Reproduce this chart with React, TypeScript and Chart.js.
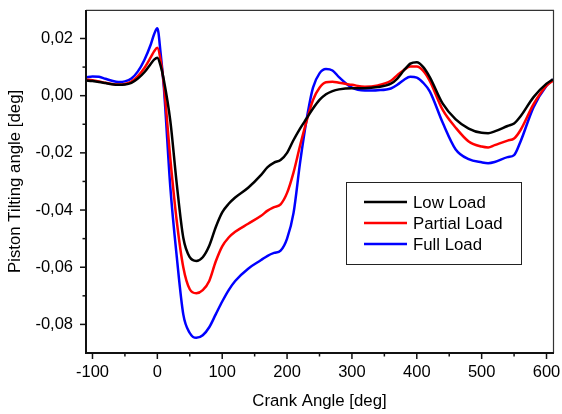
import React, { useEffect, useRef } from 'react';
import { Chart, registerables } from 'chart.js';

Chart.register(...registerables);

// Crank angle [deg]
const CRANK = [
  -110, -100, -90, -80, -70, -60, -50, -40, -30, -20,
  -10, -5, 0, 5, 10, 20, 30, 40, 50, 60,
  70, 80, 90, 100, 110, 120, 140, 160, 170, 180,
  190, 200, 210, 220, 230, 240, 250, 260, 270, 280,
  300, 320, 340, 360, 370, 380, 390, 400, 410, 420,
  440, 460, 480, 500, 510, 520, 540, 550, 560, 580,
  600, 610,
];

// Piston tilting angle [deg]
const LOW_LOAD = [
  0.0053, 0.0051, 0.0048, 0.0044, 0.0040, 0.0038, 0.0039, 0.0045, 0.0060, 0.0082,
  0.0112, 0.0126, 0.0133, 0.0105, 0.0055, -0.0088, -0.0310, -0.0497, -0.0565, -0.0578,
  -0.0565, -0.0525, -0.0460, -0.0408, -0.0378, -0.0356, -0.0322, -0.0277, -0.0250, -0.0234,
  -0.0225, -0.0200, -0.0155, -0.0115, -0.0080, -0.0045, -0.0015, 0.0005, 0.0016, 0.0022,
  0.0026, 0.0026, 0.0030, 0.0042, 0.0060, 0.0088, 0.0112, 0.0117, 0.0100, 0.0065,
  -0.0028, -0.0083, -0.0115, -0.0130, -0.0131, -0.0125, -0.0106, -0.0097, -0.0072, -0.0005,
  0.0042, 0.0057,
];

const PARTIAL_LOAD = [
  0.0056, 0.0054, 0.0050, 0.0045, 0.0041, 0.0039, 0.0041, 0.0049, 0.0068, 0.0097,
  0.0135, 0.0155, 0.0168, 0.0125, 0.0040, -0.0220, -0.0440, -0.0600, -0.0677, -0.0691,
  -0.0680, -0.0648, -0.0580, -0.0527, -0.0496, -0.0476, -0.0448, -0.0420, -0.0402, -0.0390,
  -0.0380, -0.0340, -0.0268, -0.0175, -0.0090, -0.0015, 0.0028, 0.0047, 0.0049, 0.0045,
  0.0038, 0.0031, 0.0036, 0.0052, 0.0072, 0.0090, 0.0102, 0.0102, 0.0087, 0.0052,
  -0.0050, -0.0112, -0.0160, -0.0178, -0.0181, -0.0173, -0.0157, -0.0150, -0.0120, -0.0030,
  0.0035, 0.0052,
];

const FULL_LOAD = [
  0.0064, 0.0067, 0.0066, 0.0059, 0.0052, 0.0048, 0.0050, 0.0060, 0.0085, 0.0125,
  0.0180, 0.0215, 0.0236, 0.0150, 0.0030, -0.0320, -0.0565, -0.0765, -0.0830, -0.0847,
  -0.0838, -0.0810, -0.0765, -0.0720, -0.0680, -0.0648, -0.0605, -0.0575, -0.0560, -0.0550,
  -0.0542, -0.0500, -0.0410, -0.0235, -0.0085, 0.0028, 0.0078, 0.0093, 0.0088, 0.0065,
  0.0028, 0.0018, 0.0019, 0.0025, 0.0038, 0.0055, 0.0066, 0.0063, 0.0045, 0.0015,
  -0.0095, -0.0188, -0.0222, -0.0233, -0.0236, -0.0232, -0.0215, -0.0208, -0.0160, -0.0040,
  0.0035, 0.0057,
];

const SERIES_NAMES = ['Low Load', 'Partial Load', 'Full Load'];
const SERIES_COLORS = ['#000000', '#ff0000', '#0000ff'];
const X_TITLE = 'Crank Angle [deg]';
const Y_TITLE = 'Piston Tilting angle [deg]';

const FONT_FAMILY = 'Arial, "Liberation Sans", sans-serif';

const framePlugin = {
  id: 'frameAndLegend',
  afterDraw(chart: any) {
    const { ctx, chartArea, scales } = chart;
    const { left, right, top, bottom } = chartArea;
    const xs = scales.x;
    const ys = scales.y;
    ctx.save();
    // top & right frame
    ctx.strokeStyle = '#333';
    ctx.lineWidth = 1.2;
    ctx.beginPath();
    ctx.moveTo(left, top + 0.5);
    ctx.lineTo(right + 0.5, top + 0.5);
    ctx.lineTo(right + 0.5, bottom);
    ctx.stroke();
    // left & bottom axes
    ctx.strokeStyle = '#111';
    ctx.lineWidth = 2;
    ctx.beginPath();
    ctx.moveTo(left, top);
    ctx.lineTo(left, bottom);
    ctx.lineTo(right + 1, bottom);
    ctx.stroke();
    // ticks
    ctx.lineWidth = 1.5;
    xs.ticks.forEach((t: any) => {
      const px = xs.getPixelForValue(t.value);
      const major = Math.abs(t.value % 100) < 1e-6;
      const len = major ? 6 : 3.5;
      ctx.beginPath();
      ctx.moveTo(px, bottom);
      ctx.lineTo(px, bottom + len);
      ctx.stroke();
    });
    ys.ticks.forEach((t: any) => {
      const py = ys.getPixelForValue(t.value);
      const k = Math.round(t.value * 100);
      const major = k % 2 === 0;
      const len = major ? 6 : 3.5;
      ctx.beginPath();
      ctx.moveTo(left, py);
      ctx.lineTo(left - len, py);
      ctx.stroke();
    });
    // legend
    const bx = 346.5, by = 182.5, bw = 175, bh = 82;
    ctx.fillStyle = '#fff';
    ctx.fillRect(bx, by, bw, bh);
    ctx.strokeStyle = '#222';
    ctx.lineWidth = 1;
    ctx.strokeRect(bx, by, bw, bh);
    ctx.font = `16.8px ${FONT_FAMILY}`;
    ctx.textBaseline = 'middle';
    ctx.textAlign = 'left';
    chart.data.datasets.forEach((ds: any, i: number) => {
      const ry = 202 + i * 21;
      ctx.strokeStyle = ds.borderColor;
      ctx.lineWidth = 2.5;
      ctx.beginPath();
      ctx.moveTo(364, ry);
      ctx.lineTo(407, ry);
      ctx.stroke();
      ctx.fillStyle = '#000';
      ctx.fillText(ds.label, 413, ry + 1);
    });
    ctx.restore();
  },
};

export default function App() {
  const canvasRef = useRef<HTMLCanvasElement | null>(null);

  useEffect(() => {
    if (!canvasRef.current) return;
    const seriesValues = [LOW_LOAD, PARTIAL_LOAD, FULL_LOAD];
    const datasets = seriesValues.map((vals, i) => ({
      label: SERIES_NAMES[i],
      data: CRANK.map((x, j) => ({ x, y: vals[j] })),
      borderColor: SERIES_COLORS[i],
      backgroundColor: SERIES_COLORS[i],
      borderWidth: 2.5,
      pointRadius: 0,
      fill: false,
      cubicInterpolationMode: 'monotone' as const,
    }));
    const tickFont = { family: FONT_FAMILY, size: 16.5 };
    const titleFont = { family: FONT_FAMILY, size: 16.8 };
    const hiddenGrid = {
      display: true,
      drawOnChartArea: false,
      drawTicks: true,
      color: 'rgba(0,0,0,0)',
      tickColor: 'rgba(0,0,0,0)',
    };
    const chart = new Chart(canvasRef.current, {
      type: 'line',
      data: { datasets },
      options: {
        animation: false,
        responsive: false,
        devicePixelRatio: 1,
        layout: { padding: { top: 9, right: 9, left: 0, bottom: 0 } },
        plugins: {
          legend: { display: false },
          tooltip: { enabled: false },
        },
        scales: {
          x: {
            type: 'linear',
            min: -110,
            max: 610,
            grid: { ...hiddenGrid, tickLength: 10 },
            border: { display: false },
            afterBuildTicks: (scale: any) => {
              scale.ticks = scale.ticks.filter(
                (t: any) => Math.abs(t.value / 50 - Math.round(t.value / 50)) < 1e-6
              );
            },
            afterFit: (scale: any) => {
              scale.height = 61;
            },
            ticks: {
              stepSize: 50,
              includeBounds: false,
              autoSkip: false,
              maxRotation: 0,
              padding: 0,
              color: '#000',
              font: tickFont,
              callback: (v: any) => (Math.abs(v % 100) < 1e-6 ? String(v) : ''),
            },
            title: {
              display: true,
              text: X_TITLE,
              color: '#000',
              font: titleFont,
              padding: { top: 0, bottom: 3 },
            },
          },
          y: {
            type: 'linear',
            min: -0.09,
            max: 0.03,
            grid: { ...hiddenGrid, tickLength: 13 },
            border: { display: false },
            afterBuildTicks: (scale: any) => {
              scale.ticks = scale.ticks.filter((t: any) => {
                const k = t.value * 100;
                return Math.abs(k - Math.round(k)) < 1e-6 && t.value > -0.0899 && t.value < 0.0299;
              });
            },
            afterFit: (scale: any) => {
              scale.width = 86;
            },
            ticks: {
              stepSize: 0.01,
              includeBounds: false,
              autoSkip: false,
              padding: 0,
              color: '#000',
              font: tickFont,
              callback: (v: any) => {
                const k = Math.round(Number(v) * 100);
                if (k % 2 !== 0) return '';
                return (k / 100).toFixed(2).replace('.', ',');
              },
            },
            title: {
              display: true,
              text: Y_TITLE,
              color: '#000',
              font: titleFont,
              padding: { top: 5, bottom: 0 },
            },
          },
        },
      },
      plugins: [framePlugin],
    });
    return () => chart.destroy();
  }, []);

  return (
    <div style={{ position: 'fixed', left: 0, top: 0, width: 562, height: 414, background: '#fff' }}>
      <canvas ref={canvasRef} width={562} height={414} />
    </div>
  );
}
